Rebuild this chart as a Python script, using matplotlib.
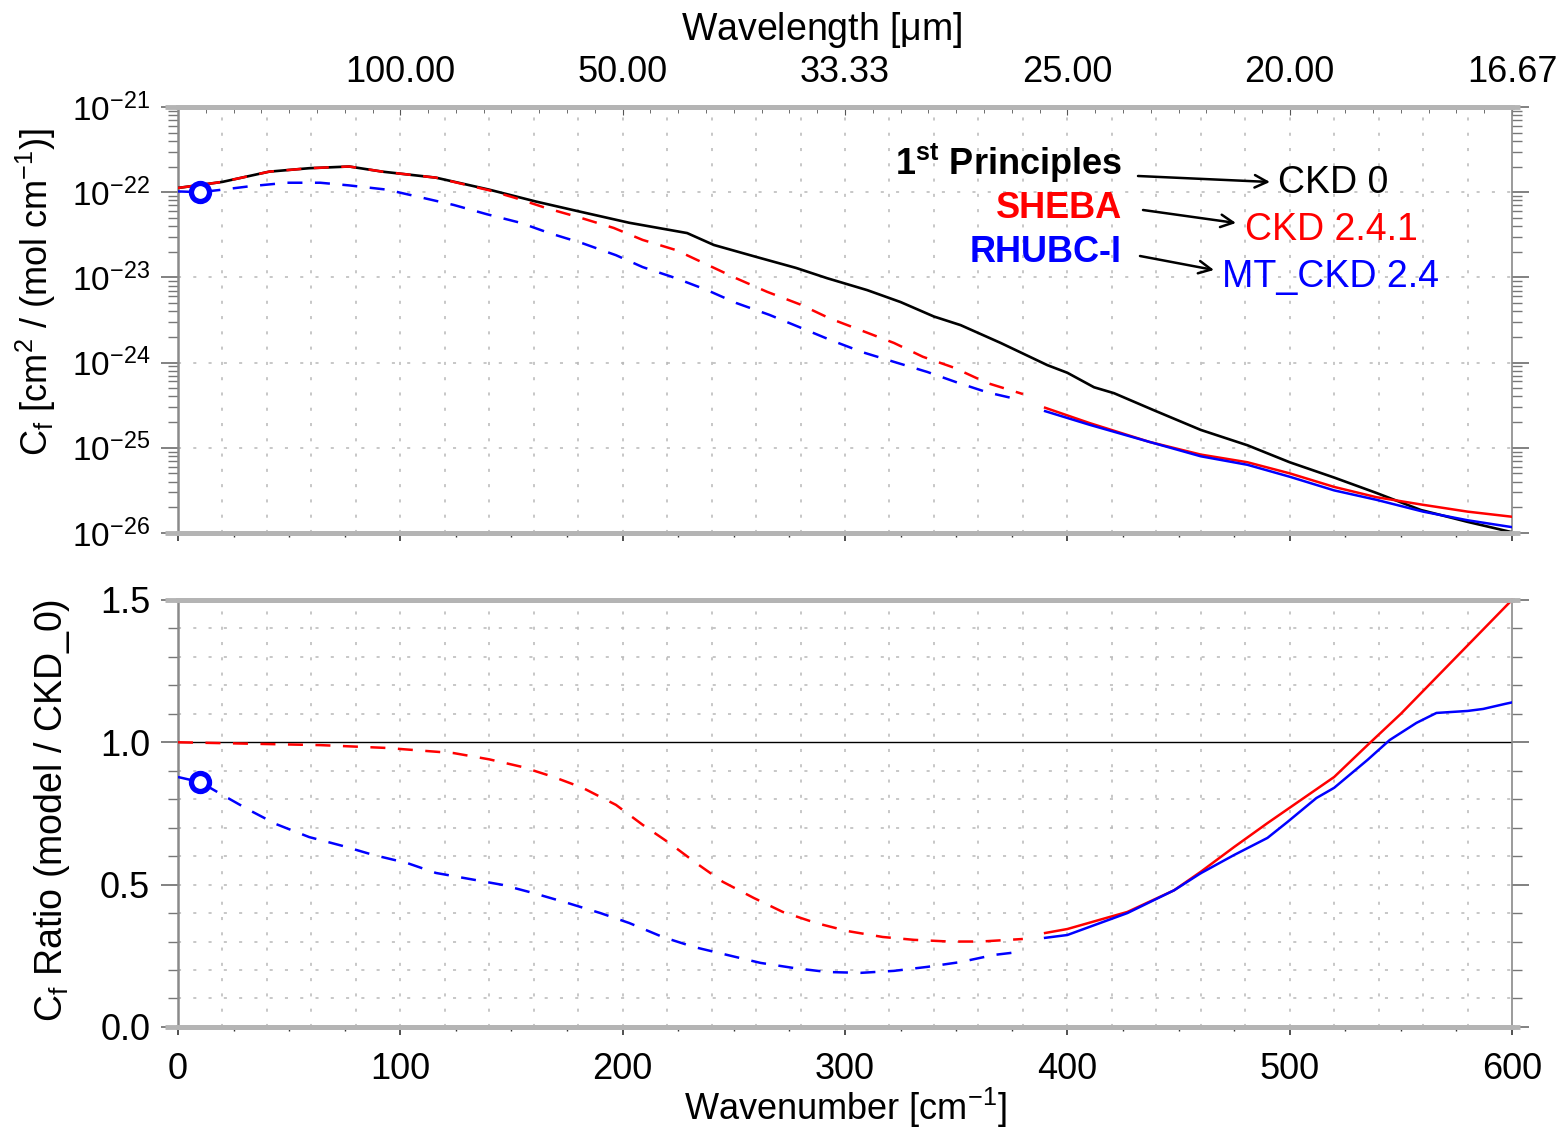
import matplotlib
matplotlib.use('Agg')
import matplotlib.pyplot as plt
from matplotlib.ticker import MultipleLocator, FixedLocator, LogFormatterMathtext, NullFormatter

plt.rcParams['font.family'] = ['Liberation Sans', 'DejaVu Sans']
plt.rcParams['mathtext.fontset'] = 'custom'
plt.rcParams['mathtext.rm'] = 'Liberation Sans'
plt.rcParams['mathtext.it'] = 'Liberation Sans:italic'
plt.rcParams['mathtext.bf'] = 'Liberation Sans:bold'
plt.rcParams['mathtext.default'] = 'regular'

# continuum coefficient Cf [cm2 / (mol cm-1)]
wn_ckd0 = [0, 20, 41, 59, 77, 92, 116, 140, 161, 181, 203, 229, 241, 260, 278, 292, 310,
           325, 340, 352, 370, 391, 400, 412, 421, 439, 460, 481, 500, 520, 539, 559, 580, 600]
cf_ckd0 = [1.12e-22, 1.32e-22, 1.74e-22, 1.91e-22, 2.00e-22, 1.74e-22, 1.48e-22, 1.07e-22,
           7.76e-23, 5.89e-23, 4.37e-23, 3.31e-23, 2.40e-23, 1.74e-23, 1.29e-23, 9.77e-24,
           7.08e-24, 5.13e-24, 3.47e-24, 2.75e-24, 1.70e-24, 9.33e-25, 7.59e-25, 5.13e-25,
           4.37e-25, 2.75e-25, 1.62e-25, 1.07e-25, 6.76e-26, 4.47e-26, 2.95e-26, 1.86e-26,
           1.35e-26, 1.02e-26]

# CKD 2.4.1 (SHEBA): dashed below 385 cm-1, solid above
wn_ckd241_far = [0, 20, 41, 59, 77, 92, 116, 140, 152, 166, 181, 196, 209, 224, 238, 251,
                 265, 280, 293, 307, 322, 335, 349, 364, 380]
cf_ckd241_far = [1.12e-22, 1.32e-22, 1.74e-22, 1.91e-22, 2.00e-22, 1.74e-22, 1.48e-22,
                 1.05e-22, 8.51e-23, 6.46e-23, 5.01e-23, 3.80e-23, 2.75e-23, 2.09e-23,
                 1.41e-23, 9.77e-24, 6.76e-24, 4.79e-24, 3.31e-24, 2.40e-24, 1.70e-24,
                 1.17e-24, 8.71e-25, 5.75e-25, 4.27e-25]
wn_ckd241_mid = [390, 410, 437, 460, 481, 500, 520, 539, 560, 580, 600]
cf_ckd241_mid = [2.95e-25, 1.95e-25, 1.17e-25, 8.32e-26, 6.76e-26, 5.01e-26, 3.47e-26,
                 2.63e-26, 2.14e-26, 1.78e-26, 1.55e-26]

# MT_CKD 2.4 (RHUBC-I)
wn_mtckd_far = [0, 10, 20, 32, 49, 64, 77, 94, 109, 124, 139, 154, 167, 182, 197, 209, 224,
                238, 251, 266, 280, 293, 308, 322, 337, 350, 364, 379]
cf_mtckd_far = [1.02e-22, 1.00e-22, 1.07e-22, 1.17e-22, 1.29e-22, 1.29e-22, 1.20e-22,
                1.07e-22, 8.71e-23, 7.08e-23, 5.50e-23, 4.37e-23, 3.31e-23, 2.51e-23,
                1.82e-23, 1.32e-23, 9.77e-24, 7.08e-24, 5.01e-24, 3.63e-24, 2.57e-24,
                1.86e-24, 1.32e-24, 1.02e-24, 7.76e-25, 5.89e-25, 4.47e-25, 3.63e-25]
wn_mtckd_mid = [390, 410, 437, 460, 481, 500, 520, 539, 560, 580, 600]
cf_mtckd_mid = [2.69e-25, 1.86e-25, 1.17e-25, 7.94e-26, 6.31e-26, 4.57e-26, 3.16e-26,
                2.45e-26, 1.78e-26, 1.41e-26, 1.17e-26]

# ratios to CKD 0
ratio_wn_red_far = [0, 64, 94, 124, 140, 155, 169, 182, 197, 209, 221, 233, 245, 259, 272,
                    287, 301, 317, 331, 347, 361, 380]
ratio_red_far = [1.0, 0.99, 0.98, 0.962, 0.94, 0.913, 0.878, 0.84, 0.78, 0.71, 0.646, 0.576,
                 0.51, 0.453, 0.404, 0.365, 0.337, 0.316, 0.306, 0.30, 0.30, 0.309]
ratio_wn_red_mid = [390, 400, 427, 448, 460, 475, 490, 505, 520, 535, 550, 565, 580, 590, 600]
ratio_red_mid = [0.33, 0.344, 0.404, 0.48, 0.545, 0.632, 0.716, 0.797, 0.878, 0.99, 1.10,
                 1.22, 1.34, 1.42, 1.50]

ratio_wn_blue_far = [0, 10, 20, 32, 44, 59, 74, 88, 103, 116, 131, 146, 160, 175, 190, 203,
                     218, 232, 247, 262, 277, 292, 307, 322, 337, 352, 367, 380]
ratio_blue_far = [0.878, 0.86, 0.815, 0.762, 0.713, 0.667, 0.636, 0.604, 0.576, 0.541, 0.52,
                  0.499, 0.47, 0.436, 0.40, 0.365, 0.316, 0.281, 0.253, 0.225, 0.207, 0.193,
                  0.19, 0.197, 0.211, 0.228, 0.253, 0.265]
ratio_wn_blue_mid = [390, 400, 427, 448, 460, 475, 490, 499, 512, 520, 535, 545, 557, 566,
                     580, 587, 597, 600]
ratio_blue_mid = [0.313, 0.323, 0.40, 0.48, 0.54, 0.604, 0.664, 0.72, 0.804, 0.84, 0.938,
                  1.008, 1.068, 1.103, 1.11, 1.117, 1.135, 1.14]

# RHUBC-I measurement point
obs_wn = 10
obs_cf = 1.0e-22
obs_ratio = 0.86

wl_ticks = [100, 200, 300, 400, 500, 600]
wl_labels = ['100.00', '50.00', '33.33', '25.00', '20.00', '16.67']
cf_decades = [1e-26, 1e-25, 1e-24, 1e-23, 1e-22, 1e-21]

RED = '#ff0000'
BLUE = '#0000ff'
FRAME = '#b4b4b4'
GRIDC = '#b8b8b8'
DASH = (0, (6, 5))

fig = plt.figure(figsize=(15.68, 11.33), dpi=100)
ax1 = fig.add_axes([0.1135, 0.5296, 0.8508, 0.3760])
ax2 = fig.add_axes([0.1135, 0.0936, 0.8508, 0.3769])


def frame(ax):
    for side in ['top', 'bottom']:
        ax.spines[side].set_color(FRAME)
        ax.spines[side].set_linewidth(3.5)
    ax.spines['left'].set_color('#8a8a8a')
    ax.spines['left'].set_linewidth(1.8)
    ax.spines['right'].set_color('#8a8a8a')
    ax.spines['right'].set_linewidth(1.2)
    for yy in [0, 1]:
        ax.plot([-0.01, 1.006], [yy, yy], transform=ax.transAxes, color=FRAME, lw=3.5,
                clip_on=False, zorder=5, solid_capstyle='butt')
    ax.set_xlim(0, 600)
    ax.xaxis.set_major_locator(MultipleLocator(100))
    ax.xaxis.set_minor_locator(MultipleLocator(25))
    ax.tick_params(axis='x', which='both', direction='out', top=False, color='#333333')
    ax.tick_params(axis='x', which='major', length=6, width=1.2, labelsize=26, pad=12)
    ax.tick_params(axis='x', which='minor', length=3, width=1.0)
    ax.tick_params(axis='y', which='both', direction='out', left=True, right=True,
                   color='#777777')
    ax.tick_params(axis='y', which='major', length=12, width=1.3, labelsize=26, pad=8)
    ax.tick_params(axis='y', which='minor', length=7, width=1.0)
    for x in range(20, 600, 20):
        ax.axvline(x, color=GRIDC, lw=1.1, ls=(0, (2, 8)), zorder=0)


# upper panel: continuum coefficients
frame(ax1)
ax1.set_yscale('log')
ax1.set_ylim(1e-26, 1e-21)
ax1.yaxis.set_major_locator(FixedLocator(cf_decades))
ax1.yaxis.set_major_formatter(LogFormatterMathtext())
ax1.yaxis.set_minor_locator(FixedLocator([m * d for d in cf_decades[:-1] for m in range(2, 10)]))
ax1.yaxis.set_minor_formatter(NullFormatter())
ax1.tick_params(axis='y', which='major', labelsize=24)
ax1.tick_params(axis='x', labelbottom=False)
for d in cf_decades[1:-1]:
    ax1.axhline(d, color=GRIDC, lw=1.1, ls=(0, (2, 8)), zorder=0)

ax1.plot(wn_ckd0, cf_ckd0, color='black', lw=1.9, zorder=3)
ax1.plot(wn_ckd241_far, cf_ckd241_far, color=RED, lw=1.8, ls=DASH, zorder=3)
ax1.plot(wn_ckd241_mid, cf_ckd241_mid, color=RED, lw=1.8, zorder=3)
ax1.plot(wn_mtckd_far, cf_mtckd_far, color=BLUE, lw=1.8, ls=DASH, zorder=3)
ax1.plot(wn_mtckd_mid, cf_mtckd_mid, color=BLUE, lw=1.8, zorder=4)
ax1.plot([obs_wn], [obs_cf], 'o', ms=13, mfc='white', mec=BLUE, mew=3.8, zorder=6,
         clip_on=False)

# wavelength axis on top
sec = ax1.secondary_xaxis('top')
sec.set_xticks(wl_ticks, labels=wl_labels)
sec.xaxis.set_minor_locator(MultipleLocator(12.5))
sec.spines['top'].set_visible(False)
sec.tick_params(axis='x', which='both', direction='in', color='#555555')
sec.tick_params(axis='x', which='major', length=6, labelsize=26, pad=12)
sec.tick_params(axis='x', which='minor', length=4)

# lower panel: ratio to CKD 0
frame(ax2)
ax2.set_ylim(0, 1.5)
ax2.yaxis.set_major_locator(FixedLocator([0.0, 0.5, 1.0, 1.5]))
ax2.yaxis.set_minor_locator(MultipleLocator(0.1))
ax2.yaxis.set_major_formatter(lambda v, p: f'{v:.1f}')
for k in range(1, 15):
    if k != 10:
        ax2.axhline(k / 10, color=GRIDC, lw=1.1, ls=(0, (2, 8)), zorder=0)
ax2.axhline(1.0, color='black', lw=1.0, zorder=2)

ax2.plot(ratio_wn_red_far, ratio_red_far, color=RED, lw=1.8, ls=DASH, zorder=3)
ax2.plot(ratio_wn_red_mid, ratio_red_mid, color=RED, lw=1.8, zorder=3, clip_on=False)
ax2.plot(ratio_wn_blue_far, ratio_blue_far, color=BLUE, lw=1.8, ls=DASH, zorder=3)
ax2.plot(ratio_wn_blue_mid, ratio_blue_mid, color=BLUE, lw=1.8, zorder=4)
ax2.plot([obs_wn], [obs_ratio], 'o', ms=13, mfc='white', mec=BLUE, mew=3.8, zorder=6)

# axis titles
H = 1133.0
fig.text(822 / 1568, 1 - 30 / H, r'Wavelength [$\mu$m]', ha='center', va='center',
         fontsize=27)
fig.text(845 / 1568, 1 - 1108 / H, r'Wavenumber [cm$^{-1}$]', ha='center', va='center',
         fontsize=26)
fig.text(36 / 1568, 1 - 292 / H, r'C$_{f}$ [cm$^{2}$ / (mol cm$^{-1}$)]', rotation=90,
         ha='center', va='center', fontsize=26)
fig.text(52 / 1568, 1 - 810 / H, r'C$_{f}$ Ratio (model / CKD_0)', rotation=90,
         ha='center', va='center', fontsize=27)

# field campaign -> model labels
lab = dict(xycoords='figure pixels', textcoords='figure pixels')
fig.text(1122 / 1568, 1 - 175 / H, r'1$^{\mathbf{st}}$ Principles', ha='right',
         va='baseline', fontsize=26, fontweight='bold', color='black')
fig.text(1122 / 1568, 1 - 218 / H, 'SHEBA', ha='right', va='baseline', fontsize=26,
         fontweight='bold', color=RED)
fig.text(1122 / 1568, 1 - 262 / H, 'RHUBC-I', ha='right', va='baseline', fontsize=26,
         fontweight='bold', color=BLUE)
fig.text(1278 / 1568, 1 - 193 / H, 'CKD 0', ha='left', va='baseline', fontsize=27,
         color='black')
fig.text(1245 / 1568, 1 - 240 / H, 'CKD 2.4.1', ha='left', va='baseline', fontsize=27,
         color=RED)
fig.text(1222 / 1568, 1 - 287 / H, 'MT_CKD 2.4', ha='left', va='baseline', fontsize=27,
         color=BLUE)
arrows = [((1138, 176), (1270, 182)), ((1143, 210), (1236, 223)), ((1140, 256), (1214, 270))]
for (x0, y0), (x1, y1) in arrows:
    fig.add_artist(plt.Annotation('', xy=(x1, H - y1), xytext=(x0, H - y0),
                                  arrowprops=dict(arrowstyle='->,head_length=0.9,head_width=0.45',
                                                  lw=1.8, color='black',
                                                  shrinkA=0, shrinkB=0), **lab))

fig.savefig('out.png', dpi=100)
